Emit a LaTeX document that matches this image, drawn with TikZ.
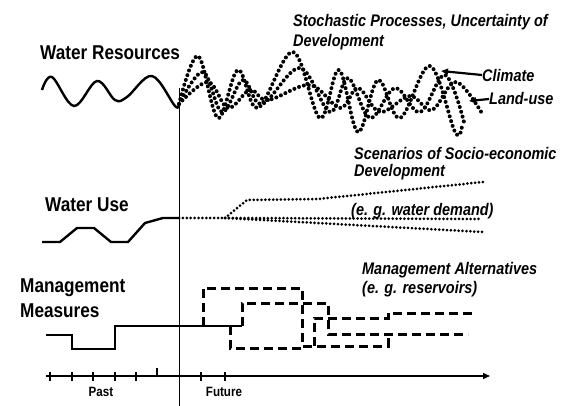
\documentclass[tikz,border=0pt]{standalone}
\usepackage{fontspec}
\setmainfont{Liberation Sans}
\newfontfamily\narrowsans[FakeStretch=0.86]{Liberation Sans}
\usetikzlibrary{arrows.meta}
\newcommand{\wrarrowtip}{Triangle[length=7pt,width=6pt]}
\tikzstyle{past}=[line width=2.4pt,line join=miter]
\tikzstyle{stoch}=[line width=4pt,line cap=round,dash pattern=on 0pt off 5pt]
\tikzstyle{scen}=[line width=3pt,line cap=round,dash pattern=on 0pt off 3.9pt]
\tikzstyle{alt}=[line width=3pt,dash pattern=on 9pt off 5pt]
\tikzstyle{pointer}=[-\wrarrowtip,line width=2.2pt]
\tikzstyle{tick}=[line width=1.2pt]
\tikzstyle{biglabel}=[font=\narrowsans\fontsize{20}{25}\selectfont\bfseries,inner sep=0pt,anchor=west,align=left]
\tikzstyle{itlabel}=[font=\narrowsans\fontsize{16.8}{20}\selectfont\bfseries\itshape,inner sep=0pt,anchor=west,align=left]
\tikzstyle{axislabel}=[font=\narrowsans\fontsize{13.5}{15}\selectfont\bfseries,inner sep=0pt]

\begin{document}
\begin{tikzpicture}[x=1pt,y=-1pt]

  % Page frame (pixel grid of the original, y downwards)
  \useasboundingbox (0,0) rectangle (562,406);

  % Labels on the left
  \node[biglabel] (wres) at (40,53) {Water Resources};
  \node[biglabel] (wuse) at (45,205) {Water Use};
  \node[biglabel] (mgmt) at (20,298) {Management\\Measures};

  % Labels on the right
  \node[itlabel] (stoch) at (293,32) {Stochastic Processes, Uncertainty of\\Development};
  \node[itlabel] (climate) at (482,75) {Climate};
  \node[itlabel] (landuse) at (489,99) {Land-use};
  \node[itlabel] (scenario) at (354,164) {Scenarios of Socio-economic\\[-3pt]Development};
  \node[itlabel] (demand) at (351,211) {(e. g. water demand)};
  \node[itlabel] (alter) at (362,280) {Management Alternatives\\[-1pt](e. g. reservoirs)};

  % Now line
  \coordinate (nowtop) at (179,88);
  \coordinate (nowbot) at (179,406);
  \draw[line width=1pt] (nowtop) -- (nowbot);

  % Water resources: past and stochastic future
  \draw[past] plot[smooth,tension=0.6] coordinates {(42,90) (52,77) (74,106) (97,81) (115,100) (127,97) (152,76) (175,106) (179,104)};
  \draw[stoch] plot[smooth,tension=0.6] coordinates {(179,104) (198,56) (218,118) (238,70) (258,108) (293,52) (320,118) (339,70) (358,132) (378,80) (400,118) (430,66) (455,132) (462,126)};
  \draw[stoch] plot[smooth,tension=0.6] coordinates {(179,104) (203,72) (222,112) (243,80) (262,104) (300,68) (330,112) (348,78) (370,118) (395,88) (420,112) (445,75) (464,122)};
  \draw[stoch] plot[smooth,tension=0.6] coordinates {(179,104) (208,82) (228,108) (250,90) (268,100) (310,85) (340,108) (358,88) (380,112) (410,96) (432,110) (456,82) (483,115)};

  % Arrows to the curves
  \coordinate (climatetip) at (441,71);
  \coordinate (landusetip) at (469,101);
  \draw[pointer] (climate.west) -- (climatetip);
  \draw[pointer] (landuse.west) -- (landusetip);

  % Water use
  \draw[past] (42,242) -- (60,242) -- (77,228) -- (94,228) -- (111,242) -- (128,242) -- (145,223) -- (163,218) -- (179,218);
  \coordinate (split) at (225,218);
  \draw[scen] (179,218) -- (split);
  \draw[scen] (split) -- (247,200) -- (318,199) -- (483,182);
  \draw[scen] (split) -- (480,219);
  \draw[scen] (split) -- (483,232);

  % Management measures
  \draw[past] (46,335) -- (72,335) -- (72,349) -- (115,349) -- (115,326) -- (242,326);
  \draw[alt] (203,326) -- (203,288) -- (302,288) -- (302,346) -- (388,346) -- (388,334);
  \draw[alt] (242,326) -- (242,303) -- (328,303) -- (328,334) -- (468,334);
  \draw[alt] (230,326) -- (230,348) -- (302,348);
  \draw[alt] (314,346) -- (314,318) -- (388,318) -- (388,313) -- (473,313);

  % Time axis
  \coordinate (tstart) at (46,376);
  \coordinate (tend) at (490,376);
  \draw[line width=1.5pt,-\wrarrowtip] (tstart) -- (tend);
  \foreach \x in {50,72,93,115,136,201,225}
    \draw[tick] (\x,372) -- (\x,381);
  \draw[tick] (157,368) -- (157,376);
  \node[axislabel] (past) at (101,392) {Past};
  \node[axislabel] (future) at (224,392) {Future};

\end{tikzpicture}
\end{document}
